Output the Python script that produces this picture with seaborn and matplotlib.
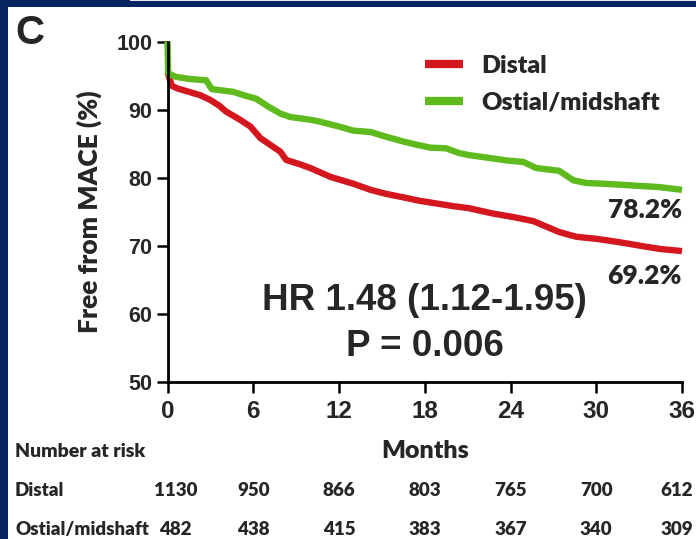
import matplotlib
matplotlib.use("Agg")
import matplotlib.pyplot as plt
import matplotlib.transforms as mtransforms
from matplotlib.patches import Rectangle
import pandas as pd
import seaborn as sns

# Kaplan-Meier estimates (freedom from MACE, %) by lesion location
distal_months = [0, 0.3, 0.7, 1.5, 2.3, 3.0, 3.6, 4.1, 5.0, 5.8, 6.5, 7.2, 7.9, 8.3,
                 9.2, 10.0, 11.4, 12.2, 13.0, 14.2, 15.3, 16.5, 17.6, 18.8, 20.0,
                 21.1, 22.8, 24.2, 25.6, 26.5, 27.4, 28.6, 30.0, 31.0, 32.2, 33.3,
                 34.5, 36.0]
distal_survival = [95.5, 93.5, 93.1, 92.6, 92.1, 91.4, 90.6, 89.7, 88.6, 87.5, 85.8,
                   84.8, 83.8, 82.6, 82.0, 81.4, 80.1, 79.6, 79.1, 78.2, 77.6, 77.1,
                   76.6, 76.2, 75.8, 75.5, 74.7, 74.2, 73.6, 72.8, 72.0, 71.3, 71.0,
                   70.7, 70.3, 69.9, 69.5, 69.2]

ostial_months = [0, 0.05, 0.6, 1.5, 2.7, 3.1, 4.6, 5.5, 6.2, 7.0, 7.9, 8.6, 10.0,
                 10.7, 12.0, 13.0, 14.2, 15.3, 16.5, 17.5, 18.4, 19.5, 20.4, 21.1,
                 22.8, 23.8, 24.9, 25.8, 27.4, 28.4, 29.3, 30.5, 32.1, 34.4, 36.0]
ostial_survival = [100.0, 95.3, 94.8, 94.5, 94.3, 93.0, 92.6, 92.0, 91.6, 90.5, 89.4,
                   88.9, 88.5, 88.2, 87.5, 86.9, 86.7, 86.0, 85.3, 84.8, 84.4, 84.3,
                   83.6, 83.3, 82.8, 82.5, 82.3, 81.4, 81.0, 79.6, 79.2, 79.1, 78.9,
                   78.6, 78.2]

groups = ["Distal", "Ostial/midshaft"]
colors = ["#D4171F", "#5FBA1E"]

risk_months = [0, 6, 12, 18, 24, 30, 36]
risk_distal = [1130, 950, 866, 803, 765, 700, 612]
risk_ostial = [482, 438, 415, 383, 367, 340, 309]
y_ticks = [50, 60, 70, 80, 90, 100]

hazard_text = "HR 1.48 (1.12-1.95)"
p_text = "P = 0.006"

df = pd.concat([
    pd.DataFrame({"month": distal_months, "survival": distal_survival, "group": groups[0]}),
    pd.DataFrame({"month": ostial_months, "survival": ostial_survival, "group": groups[1]}),
], ignore_index=True)

sns.set_style("ticks")
plt.rcParams["font.family"] = ["Liberation Sans", "DejaVu Sans"]
plt.rcParams["font.weight"] = "bold"

W, H = 696, 539
fig = plt.figure(figsize=(W / 100, H / 100), dpi=100)
fig.patch.set_facecolor("white")

x0, x1, ytop, ybot = 167.5, 682.0, 41.5, 381.7
ax = fig.add_axes([x0 / W, 1 - ybot / H, (x1 - x0) / W, (ybot - ytop) / H])

sns.lineplot(data=df, x="month", y="survival", hue="group", hue_order=groups,
             palette=colors, linewidth=4.6, estimator=None, sort=False, ax=ax)
for ln in ax.lines:
    ln.set_clip_on(False)
    ln.set_solid_capstyle("butt")
    ln.set_solid_joinstyle("round")

ax.set_xlim(0, 36)
ax.set_ylim(50, 100)
ax.set_xticks(risk_months)
ax.set_yticks(y_ticks)
sns.despine(ax=ax)
for s in ("left", "bottom"):
    ax.spines[s].set_linewidth(2.0)
    ax.spines[s].set_color("black")
ax.tick_params(axis="both", direction="out", length=8, width=1.8, color="black")
ax.tick_params(axis="y", labelsize=15.5, pad=3)
ax.tick_params(axis="x", labelsize=17.5, pad=5)
for lab in ax.get_xticklabels() + ax.get_yticklabels():
    lab.set_fontweight("bold")

lato = dict(family=["Lato", "DejaVu Sans"], weight="heavy")

ax.set_ylabel("Free from MACE (%)", fontsize=19, **lato)
ax.yaxis.set_label_coords(-0.127, 0.5)
ax.set_xlabel("Months", fontsize=18, **lato)
ax.xaxis.label.set_va("baseline")
ax.xaxis.set_label_coords(0.5, -0.225)

handles, labels = ax.get_legend_handles_labels()
ax.legend(handles, labels, loc="upper left", bbox_to_anchor=(425 / W, 1 - 55 / H),
          bbox_transform=fig.transFigure, frameon=False, borderpad=0,
          borderaxespad=0, handlelength=1.5, handletextpad=0.75,
          labelspacing=0.57, prop=dict(family=["Lato", "DejaVu Sans"], weight="heavy", size=18))
for h in ax.get_legend().get_lines():
    h.set_linewidth(6)

# final estimates at 36 months
ax.text(distal_months[-1], distal_survival[-1] - 3.6, f"{distal_survival[-1]:.1f}%",
        ha="right", va="center", fontsize=19, **lato)
ax.text(ostial_months[-1], ostial_survival[-1] - 3.0, f"{ostial_survival[-1]:.1f}%",
        ha="right", va="center", fontsize=19, **lato)

ax.text(18, 62.0, hazard_text, ha="center", va="center", fontsize=26.5, fontweight="bold")
ax.text(18, 55.1, p_text, ha="center", va="center", fontsize=26.5, fontweight="bold")

# number-at-risk table; first column shifted clear of the row names,
# last column nudged so it stays inside the figure
blend = mtransforms.blended_transform_factory(ax.transData, fig.transFigure)
shift_right = mtransforms.ScaledTranslation(8 / 100, 0, fig.dpi_scale_trans)
shift_left = mtransforms.ScaledTranslation(-5 / 100, 0, fig.dpi_scale_trans)
fig.text(15 / W, 1 - 456.7 / H, "Number at risk", ha="left", va="baseline", fontsize=14, **lato)
for name, counts, base in ((groups[0], risk_distal, 495.5), (groups[1], risk_ostial, 535.0)):
    fig.text(15 / W, 1 - base / H, name, ha="left", va="baseline", fontsize=13.5, **lato)
    for i, (m, n) in enumerate(zip(risk_months, counts)):
        if i == 0:
            tr = blend + shift_right
        elif i == len(risk_months) - 1:
            tr = blend + shift_left
        else:
            tr = blend
        ax.text(m, 1 - base / H, str(n), transform=tr, ha="center", va="baseline",
                fontsize=13.5, clip_on=False, **lato)

fig.text(15 / W, 1 - 14 / H, "C", ha="left", va="top", fontsize=29, fontweight="bold")

# slide frame
navy = "#082562"
fig.patches.append(Rectangle((0, 0), 7.5 / W, 1, transform=fig.transFigure,
                             facecolor=navy, edgecolor="none", zorder=10))
fig.patches.append(Rectangle((0, 1 - 7 / H), 1, 7 / H, transform=fig.transFigure,
                             facecolor=navy, edgecolor="none", zorder=10))
fig.patches.append(Rectangle((130 / W, 1 - 1.3 / H), 1, 1.3 / H, transform=fig.transFigure,
                             facecolor="#e6e8ee", edgecolor="none", zorder=11))

fig.savefig("out.png", dpi=100)
